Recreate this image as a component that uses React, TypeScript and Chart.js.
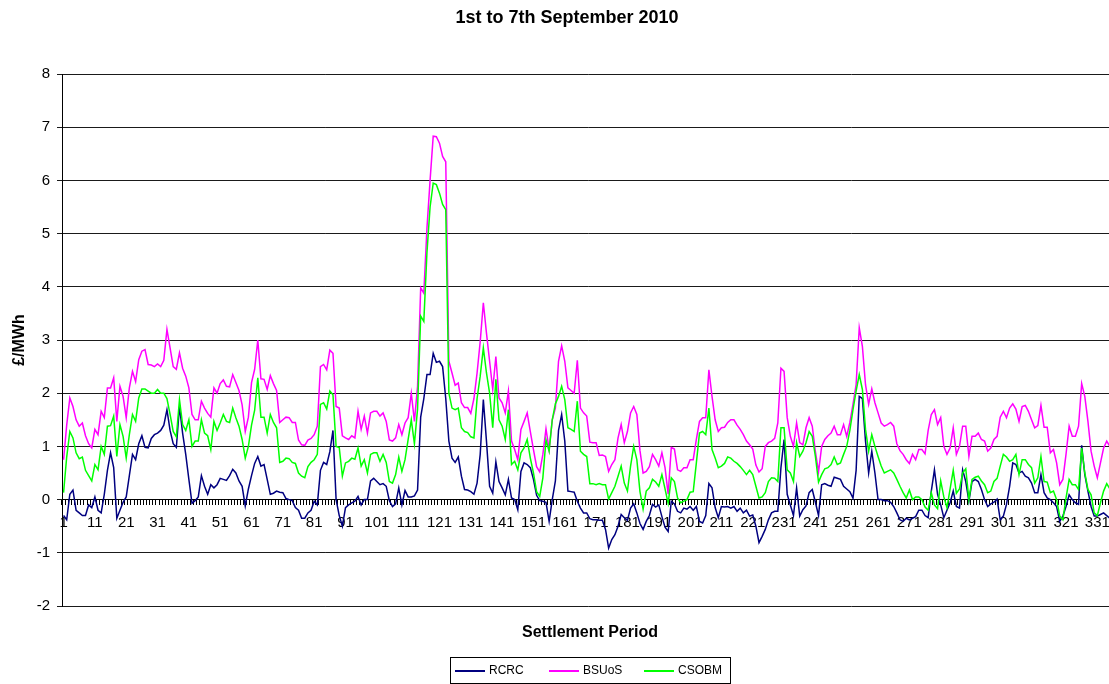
import React, { useEffect, useRef } from 'react';
import { Chart, registerables } from 'chart.js';

Chart.register(...registerables);

const TITLE = '1st to 7th September 2010';
const Y_TITLE = '£/MWh';
const X_TITLE = 'Settlement Period';
const SERIES_NAMES = ['RCRC', 'BSUoS', 'CSOBM'];
const SERIES_COLORS = ['#000080', '#FF00FF', '#00FF00'];

// Settlement periods 1..336 (7 days x 48)
const PERIODS: string[] = Array.from({ length: 336 }, (_, i) => String(i + 1));

const RCRC: number[] = [
  -0.3, -0.38, 0.1, 0.18, -0.2, -0.25, -0.3, -0.3, -0.1, -0.15,
  0.05, -0.2, -0.25, 0.1, 0.55, 0.88, 0.6, -0.35, -0.2, -0.05,
  0.05, 0.45, 0.85, 0.75, 1.05, 1.2, 0.98, 0.97, 1.15, 1.22,
  1.25, 1.3, 1.4, 1.69, 1.3, 1.05, 0.98, 1.75, 1.25, 0.85,
  0.38, -0.07, -0.02, 0.05, 0.45, 0.25, 0.1, 0.28, 0.22, 0.28,
  0.4, 0.38, 0.36, 0.45, 0.57, 0.5, 0.35, 0.25, -0.12, 0.2,
  0.45, 0.68, 0.81, 0.63, 0.66, 0.38, 0.1, 0.12, 0.16, 0.14,
  0.13, 0.02, 0.0, -0.02, -0.15, -0.2, -0.35, -0.35, -0.25, -0.2,
  -0.03, -0.1, 0.55, 0.7, 0.66, 0.9, 1.3, 0.0, -0.3, -0.5,
  -0.15, -0.1, -0.06, -0.03, 0.06, -0.1, 0.0, 0.0, 0.35, 0.4,
  0.34, 0.28, 0.3, 0.25, -0.02, -0.13, -0.08, 0.22, -0.1, 0.17,
  0.05, 0.05, 0.07, 0.18, 1.55, 1.9, 2.35, 2.35, 2.75, 2.58,
  2.6, 2.5, 1.9, 1.1, 0.78, 0.7, 0.8, 0.44, 0.19, 0.18,
  0.15, 0.1, 0.31, 0.85, 1.88, 1.1, 0.25, 0.12, 0.71, 0.34,
  0.22, 0.09, 0.38, 0.03, 0.0, -0.19, 0.53, 0.69, 0.66, 0.6,
  0.38, 0.08, -0.02, -0.03, -0.05, -0.41, 0.0, 0.35, 1.3, 1.6,
  1.1, 0.16, 0.15, 0.14, -0.03, -0.16, -0.25, -0.25, -0.36, -0.38,
  -0.38, -0.39, -0.39, -0.56, -0.91, -0.75, -0.66, -0.5, -0.28, -0.34,
  -0.39, -0.16, -0.08, -0.25, -0.45, -0.56, -0.41, -0.3, -0.09, -0.14,
  -0.1, -0.32, -0.52, -0.6, -0.03, -0.08, -0.22, -0.25, -0.16, -0.18,
  -0.13, -0.2, -0.13, -0.41, -0.44, -0.3, 0.3, 0.22, -0.15, -0.34,
  -0.13, -0.14, -0.13, -0.16, -0.13, -0.22, -0.16, -0.25, -0.2, -0.31,
  -0.29, -0.5, -0.81, -0.69, -0.56, -0.38, -0.25, -0.22, -0.22, 0.6,
  1.13, 0.1, -0.1, -0.3, 0.22, -0.31, -0.19, -0.12, 0.13, 0.19,
  -0.05, -0.3, 0.28, 0.3, 0.27, 0.25, 0.42, 0.4, 0.38, 0.25,
  0.2, 0.15, 0.03, 0.55, 1.94, 1.9, 1.1, 0.5, 0.91, 0.5,
  0.0, 0.0, -0.02, -0.02, -0.05, -0.13, -0.25, -0.38, -0.41, -0.35,
  -0.38, -0.35, -0.32, -0.2, -0.2, -0.3, -0.34, 0.16, 0.56, 0.1,
  -0.1, -0.34, -0.2, -0.06, 0.16, -0.13, -0.16, 0.56, 0.34, -0.03,
  0.34, 0.38, 0.34, 0.19, 0.0, -0.13, -0.08, -0.05, 0.01, -0.38,
  -0.31, -0.09, 0.25, 0.69, 0.66, 0.5, 0.53, 0.44, 0.41, 0.31,
  0.13, 0.13, 0.47, 0.13, 0.03, 0.0, -0.06, -0.13, -0.41, -0.31,
  -0.13, 0.09, 0.0, -0.06, -0.09, 1.02, 0.47, 0.16, -0.13, -0.31,
  -0.31, -0.28, -0.25, -0.3, -0.35, -0.3,
];

const BSUOS: number[] = [
  0.75, 1.4, 1.91, 1.75, 1.5, 1.38, 1.44, 1.2, 1.05, 0.97,
  1.32, 1.22, 1.66, 1.54, 2.1, 2.1, 2.29, 1.47, 2.13, 1.94,
  1.54, 2.1, 2.41, 2.22, 2.63, 2.79, 2.82, 2.54, 2.53, 2.5,
  2.55, 2.5, 2.62, 3.2, 2.85, 2.5, 2.45, 2.76, 2.47, 2.32,
  2.1, 1.6, 1.5, 1.5, 1.85, 1.72, 1.62, 1.55, 2.1, 2.0,
  2.18, 2.25, 2.13, 2.12, 2.35, 2.2, 2.05, 1.78, 1.28, 1.55,
  2.2, 2.45, 3.0, 2.27, 2.26, 2.07, 2.33, 2.18, 2.05, 1.45,
  1.5, 1.55, 1.54, 1.45, 1.45, 1.12, 1.03, 1.02, 1.12, 1.15,
  1.22, 1.38, 2.5, 2.54, 2.44, 2.81, 2.75, 1.75, 1.72, 1.2,
  1.16, 1.13, 1.2, 1.16, 1.66, 1.32, 1.57, 1.25, 1.63, 1.66,
  1.66, 1.57, 1.63, 1.47, 1.12, 1.1, 1.16, 1.41, 1.22, 1.44,
  1.54, 2.0, 1.47, 2.13, 3.98, 3.88, 5.1, 6.0, 6.83, 6.82,
  6.7, 6.45, 6.35, 2.6, 2.38, 2.15, 2.19, 1.82, 1.73, 1.73,
  1.62, 1.9, 2.38, 2.97, 3.7, 3.13, 2.6, 2.07, 2.69, 1.91,
  1.82, 1.63, 2.04, 1.1, 0.94, 0.75, 1.32, 1.47, 1.63, 1.28,
  0.94, 0.62, 0.52, 0.85, 1.33, 0.94, 1.5, 1.72, 2.6, 2.89,
  2.6, 2.1, 2.05, 2.0, 2.62, 1.72, 1.63, 1.57, 1.08, 1.07,
  1.07, 0.83, 0.84, 0.81, 0.53, 0.66, 0.75, 1.16, 1.41, 1.07,
  1.28, 1.63, 1.75, 1.6, 0.92, 0.5, 0.53, 0.62, 0.85, 0.75,
  0.63, 0.88, 0.6, 0.1, 0.98, 0.95, 0.56, 0.53, 0.6, 0.6,
  0.75, 0.75, 1.13, 1.47, 1.54, 1.54, 2.44, 1.94, 1.5, 1.28,
  1.35, 1.36, 1.45, 1.5, 1.5, 1.4, 1.32, 1.22, 1.1, 1.03,
  0.95, 0.65, 0.52, 0.58, 1.0, 1.07, 1.1, 1.15, 1.44, 2.47,
  2.41, 1.54, 1.19, 1.0, 1.44, 1.07, 1.03, 1.35, 1.54, 1.38,
  0.9, 0.52, 1.0, 1.13, 1.2, 1.25, 1.38, 1.22, 1.22, 1.41,
  1.19, 1.45, 1.79, 2.16, 3.23, 2.88, 2.16, 1.79, 2.08, 1.82,
  1.63, 1.44, 1.38, 1.41, 1.45, 1.38, 1.05, 0.92, 0.85, 0.75,
  0.68, 0.85, 0.75, 0.94, 0.94, 0.86, 1.3, 1.6, 1.69, 1.41,
  1.54, 1.0, 0.85, 0.97, 1.35, 0.85, 1.0, 1.38, 1.38, 0.81,
  1.19, 1.19, 1.25, 1.13, 1.1, 0.91, 0.97, 1.13, 1.19, 1.55,
  1.66, 1.54, 1.72, 1.8, 1.7, 1.47, 1.75, 1.77, 1.66, 1.5,
  1.35, 1.39, 1.77, 1.36, 1.36, 0.88, 0.94, 0.69, 0.28, 0.38,
  0.85, 1.38, 1.19, 1.19, 1.38, 2.18, 1.94, 1.47, 0.91, 0.63,
  0.41, 0.69, 0.97, 1.1, 1.0, 0.9,
];

const CSOBM: number[] = [
  0.13, 0.8, 1.28, 1.16, 0.88, 0.77, 0.8, 0.55, 0.45, 0.35,
  0.66, 0.56, 1.0, 0.85, 1.38, 1.39, 1.57, 0.81, 1.41, 1.19,
  0.78, 1.22, 1.6, 1.47, 1.91, 2.08, 2.08, 2.04, 2.0, 2.0,
  2.07, 2.0, 2.0, 1.9, 1.6, 1.28, 1.18, 1.88, 1.41, 1.3,
  1.5, 1.0, 1.1, 1.1, 1.5, 1.25, 1.2, 0.94, 1.47, 1.3,
  1.44, 1.6, 1.47, 1.45, 1.72, 1.54, 1.38, 1.13, 0.78, 1.0,
  1.4, 1.68, 2.29, 1.55, 1.55, 1.25, 1.6, 1.45, 1.35, 0.7,
  0.72, 0.78, 0.77, 0.7, 0.68, 0.5, 0.44, 0.41, 0.62, 0.7,
  0.75, 0.85, 1.79, 1.82, 1.7, 2.04, 1.97, 1.0, 0.98, 0.44,
  0.69, 0.72, 0.78, 0.76, 0.97, 0.63, 0.75, 0.5, 0.85, 0.88,
  0.88, 0.72, 0.85, 0.7, 0.34, 0.31, 0.47, 0.8, 0.53, 0.75,
  1.13, 1.5, 1.05, 1.7, 3.45, 3.35, 4.64, 5.5, 5.95, 5.92,
  5.76, 5.55, 5.45, 2.0, 1.72, 1.69, 1.72, 1.35, 1.28, 1.26,
  1.18, 1.16, 1.9, 2.32, 2.85, 2.38, 2.0, 1.35, 2.26, 1.5,
  1.38, 1.13, 1.69, 0.66, 0.72, 0.56, 0.88, 0.97, 1.13, 0.78,
  0.5, 0.15, 0.06, 0.41, 1.12, 0.91, 1.5, 1.8, 1.94, 2.13,
  1.88, 1.35, 1.32, 1.28, 1.85, 0.91, 0.85, 0.81, 0.3, 0.3,
  0.28, 0.3, 0.28, 0.28, 0.01, 0.13, 0.25, 0.44, 0.63, 0.31,
  0.16, 0.63, 1.0, 0.75, 0.15, -0.18, 0.16, 0.22, 0.38, 0.33,
  0.25, 0.47, 0.2, -0.07, 0.41, 0.34, 0.03, -0.06, -0.03, 0.0,
  0.14, 0.15, 0.69, 1.25, 1.28, 1.22, 1.72, 0.94, 0.78, 0.6,
  0.63, 0.68, 0.8, 0.78, 0.72, 0.68, 0.62, 0.55, 0.47, 0.55,
  0.47, 0.25, 0.03, 0.05, 0.13, 0.34, 0.41, 0.4, 0.34, 1.35,
  1.35, 0.56, 0.5, 0.34, 1.07, 0.81, 0.91, 1.07, 1.28, 1.19,
  0.81, 0.33, 0.47, 0.58, 0.6, 0.66, 0.8, 0.66, 0.69, 0.85,
  1.0, 1.3, 1.69, 2.04, 2.35, 2.07, 1.32, 0.91, 1.22, 1.0,
  0.81, 0.63, 0.5, 0.53, 0.56, 0.5, 0.38, 0.25, 0.13, 0.03,
  0.18, 0.0, 0.05, 0.05, 0.0, -0.14, -0.2, 0.13, -0.1, -0.17,
  0.35, 0.05, -0.15, 0.2, 0.55, 0.12, 0.2, 0.5, 0.58, 0.0,
  0.38, 0.42, 0.44, 0.35, 0.28, 0.13, 0.16, 0.34, 0.4, 0.63,
  0.85, 0.8, 0.72, 0.75, 0.85, 0.47, 0.75, 0.75, 0.66, 0.6,
  0.31, 0.41, 0.81, 0.34, 0.33, 0.13, 0.16, 0.0, -0.31, -0.38,
  0.03, 0.38, 0.28, 0.28, 0.19, 0.97, 0.5, 0.19, 0.09, -0.25,
  -0.3, -0.06, 0.16, 0.3, 0.2, 0.1,
];

const Y_TICKS = [-2, -1, 0, 1, 2, 3, 4, 5, 6, 7, 8];

const FONT = 'Arial, "Liberation Sans", sans-serif';
const CANVAS_W = 1122;
const CANVAS_H = 684;

const textPlugin = {
  id: 'excelTexts',
  afterDraw(chart: any) {
    const ctx = chart.ctx as CanvasRenderingContext2D;
    ctx.save();
    ctx.fillStyle = '#000';
    ctx.textAlign = 'center';
    ctx.textBaseline = 'middle';
    ctx.font = `bold 18px ${FONT}`;
    ctx.fillText(TITLE, 567, 18);
    ctx.font = `bold 16px ${FONT}`;
    ctx.fillText(X_TITLE, 590, 633);
    ctx.save();
    ctx.translate(20, 340);
    ctx.rotate(-Math.PI / 2);
    ctx.fillText(Y_TITLE, 0, 0);
    ctx.restore();

    // legend box
    ctx.strokeStyle = '#000';
    ctx.lineWidth = 1;
    ctx.strokeRect(450.5, 657.5, 280, 26);
    const lineX = [455, 549, 644];
    ctx.font = `12px ${FONT}`;
    ctx.textAlign = 'left';
    SERIES_NAMES.forEach((name, i) => {
      ctx.strokeStyle = SERIES_COLORS[i];
      ctx.lineWidth = 2;
      ctx.beginPath();
      ctx.moveTo(lineX[i], 671);
      ctx.lineTo(lineX[i] + 30, 671);
      ctx.stroke();
      ctx.fillStyle = '#000';
      ctx.fillText(name, lineX[i] + 34, 671);
    });
    ctx.restore();
  },
};

export default function App() {
  const canvasRef = useRef<HTMLCanvasElement | null>(null);

  useEffect(() => {
    const canvas = canvasRef.current;
    if (!canvas) return;
    const series = [RCRC, BSUOS, CSOBM];
    const chart = new Chart(canvas, {
      type: 'line',
      data: {
        labels: PERIODS,
        datasets: series.map((d, i) => ({
          label: SERIES_NAMES[i],
          data: d,
          borderColor: SERIES_COLORS[i],
          backgroundColor: SERIES_COLORS[i],
          borderWidth: 1.5,
          pointRadius: 0,
          tension: 0,
          fill: false,
          order: 3 - i,
        })),
      },
      options: {
        responsive: false,
        animation: false,
        devicePixelRatio: 1,
        layout: { padding: { top: 74, bottom: 78, left: 0, right: 2 } },
        plugins: {
          legend: { display: false },
          title: { display: false },
          tooltip: { enabled: false },
        },
        scales: {
          x: {
            type: 'category',
            offset: true,
            position: { y: 0 } as any,
            grid: {
              display: true,
              drawOnChartArea: false,
              drawTicks: true,
              tickLength: 5,
              color: '#000',
              offset: true,
            },
            border: { display: true, color: '#000', width: 1 },
            ticks: {
              autoSkip: false,
              maxRotation: 0,
              minRotation: 0,
              padding: 9,
              color: '#000',
              font: { family: FONT, size: 15 },
              callback: (_v: any, i: number) => (i % 10 === 0 ? PERIODS[i] : ''),
            },
          },
          y: {
            type: 'linear',
            min: Y_TICKS[0],
            max: Y_TICKS[Y_TICKS.length - 1],
            afterFit: (scale: any) => {
              scale.width = 62;
            },
            afterBuildTicks: (scale: any) => {
              scale.ticks = Y_TICKS.map((v) => ({ value: v }));
            },
            grid: { color: '#1a1a1a', lineWidth: 1, tickLength: 5, drawTicks: true },
            border: { display: true, color: '#000', width: 1 },
            ticks: {
              padding: 7,
              color: '#000',
              font: { family: FONT, size: 15 },
            },
          },
        },
      },
      plugins: [textPlugin],
    } as any);
    return () => chart.destroy();
  }, []);

  return (
    <div
      style={{
        position: 'absolute',
        left: 0,
        top: 0,
        width: 1109,
        height: 684,
        overflow: 'hidden',
        background: '#fff',
      }}
    >
      <canvas
        ref={canvasRef}
        width={CANVAS_W}
        height={CANVAS_H}
        style={{ width: CANVAS_W, height: CANVAS_H, display: 'block' }}
      />
    </div>
  );
}
